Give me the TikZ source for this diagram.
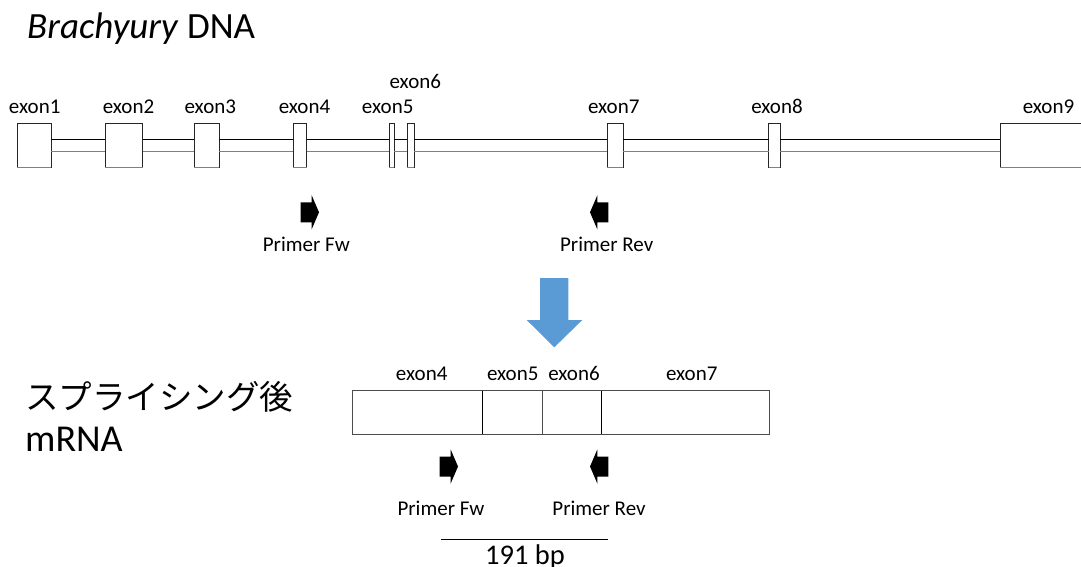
\documentclass[tikz,border=0pt]{standalone}
\usepackage{fontspec}
\setmainfont{Carlito}
\newfontfamily\jpfont{Noto Sans CJK JP}
\definecolor{bluearrow}{HTML}{5B9BD5}
\begin{document}
\begin{tikzpicture}[x=1pt,y=-1pt,
  exonbox/.style={draw=black!85, fill=white, line width=1pt, minimum height=44.4pt, inner sep=0pt, outer sep=0pt},
  mbox/.style={draw=black!70, fill=white, line width=1pt, minimum height=43.3pt, inner sep=0pt, outer sep=0pt},
  lbl/.style={font=\fontsize{21}{25}\selectfont, inner sep=0pt, anchor=base},
  bigtxt/.style={font=\fontsize{37}{44}\selectfont, inner sep=0pt, anchor=base west},
  intronA/.style={draw=black, line width=1pt},
  intronB/.style={draw=black!50, line width=1.2pt},
  pics/fwarrow/.style={code={\fill[black] (-9.3,-10) -- (1.7,-10) -- (1.7,-17) -- (9,0) -- (1.7,17) -- (1.7,10) -- (-9.3,10) -- cycle;}},
  pics/revarrow/.style={code={\fill[black] (9.3,-10) -- (-1.7,-10) -- (-1.7,-17) -- (-9,0) -- (-1.7,17) -- (-1.7,10) -- (9.3,10) -- cycle;}}
]
\useasboundingbox (0,0) rectangle (1081,567);

% Title
\node[bigtxt] (title) at (27,39) {\textit{Brachyury} DNA};

% DNA exons
\node[exonbox, minimum width=33.7pt] (e1) at (34.15,145.5) {};
\node[exonbox, minimum width=37.4pt] (e2) at (124,145.5) {};
\node[exonbox, minimum width=25.3pt] (e3) at (206.7,145.5) {};
\node[exonbox, minimum width=13.4pt] (e4) at (300,145.5) {};
\node[exonbox, minimum width=5pt]    (e5) at (391.8,145.5) {};
\node[exonbox, minimum width=7pt]    (e6) at (410.8,145.5) {};
\node[exonbox, minimum width=16pt]   (e7) at (615.3,145.5) {};
\node[exonbox, minimum width=11.6pt] (e8) at (774.5,145.5) {};
\node[exonbox, minimum width=81.5pt] (e9) at (1040.75,145.5) {};

% introns
\foreach \a/\b in {e1/e2,e2/e3,e3/e4,e4/e5,e5/e6,e6/e7,e7/e8,e8/e9}{
  \draw[intronA] ([yshift=6pt]\a.east) -- ([yshift=6pt]\b.west);
  \draw[intronB] ([yshift=-6pt]\a.east) -- ([yshift=-6pt]\b.west);
}
% grey bottom edges of exon boxes
\foreach \e in {e1,e2,e3,e4,e5,e6,e7,e8,e9}{
  \draw[black!50, line width=1.2pt] (\e.south west) -- (\e.south east);
}

% DNA labels
\node[lbl] (l1) at (34.7,113.3) {exon1};
\node[lbl] (l2) at (128.5,113.3) {exon2};
\node[lbl] (l3) at (210.3,113.3) {exon3};
\node[lbl] (l4) at (304.5,113.3) {exon4};
\node[lbl] (l5) at (387.7,113.3) {exon5};
\node[lbl] (l6) at (415.3,88.3) {exon6};
\node[lbl] (l7) at (613.7,113.3) {exon7};
\node[lbl] (l8) at (777,113.3) {exon8};
\node[lbl] (l9) at (1048.5,113.3) {exon9};

% DNA primers
\pic at (310,212.3) {fwarrow};
\pic at (599,212.3) {revarrow};
\node[lbl] (pf1) at (306.3,251.7) {Primer Fw};
\node[lbl] (pr1) at (606.7,251.7) {Primer Rev};

% blue arrow
\fill[bluearrow] (540,278) -- (568.3,278) -- (568.3,320) -- (582.3,320) -- (554.3,347.3) -- (526.7,320) -- (540,320) -- cycle;

% Japanese + mRNA
\node[inner sep=0pt, anchor=west, font=\jpfont\fontsize{33.5}{40}\selectfont] (jp) at (25,397) {スプライシング後};
\node[bigtxt, font=\fontsize{38}{45}\selectfont] (mrna) at (25,451) {mRNA};

% mRNA boxes
\node[mbox, minimum width=130.4pt] (m4) at (417.5,412.35) {};
\node[mbox, minimum width=59.3pt]  (m5) at (512.35,412.35) {};
\node[mbox, minimum width=59.7pt]  (m6) at (571.85,412.35) {};
\node[mbox, minimum width=167.6pt] (m7) at (685.5,412.35) {};
\draw[black, line width=1pt] (m4.north east) -- (m4.south east);
\draw[black, line width=1pt] (m6.north east) -- (m6.south east);

\node[lbl] (ml4) at (421.7,380) {exon4};
\node[lbl] (ml5) at (512.7,380) {exon5};
\node[lbl] (ml6) at (574,380) {exon6};
\node[lbl] (ml7) at (691.7,380) {exon7};

% mRNA primers
\pic at (449,466.5) {fwarrow};
\pic at (599,466.5) {revarrow};
\node[lbl] (pf2) at (441,515) {Primer Fw};
\node[lbl] (pr2) at (599,515) {Primer Rev};

% product length
\coordinate (bpL) at (441,539.3);
\coordinate (bpR) at (607.7,539.3);
\draw[black, line width=1.3pt] (bpL) -- (bpR);
\node[inner sep=0pt, anchor=base, font=\fontsize{28.5}{34}\selectfont] (bp) at (525,564) {191 bp};
\end{tikzpicture}
\end{document}
